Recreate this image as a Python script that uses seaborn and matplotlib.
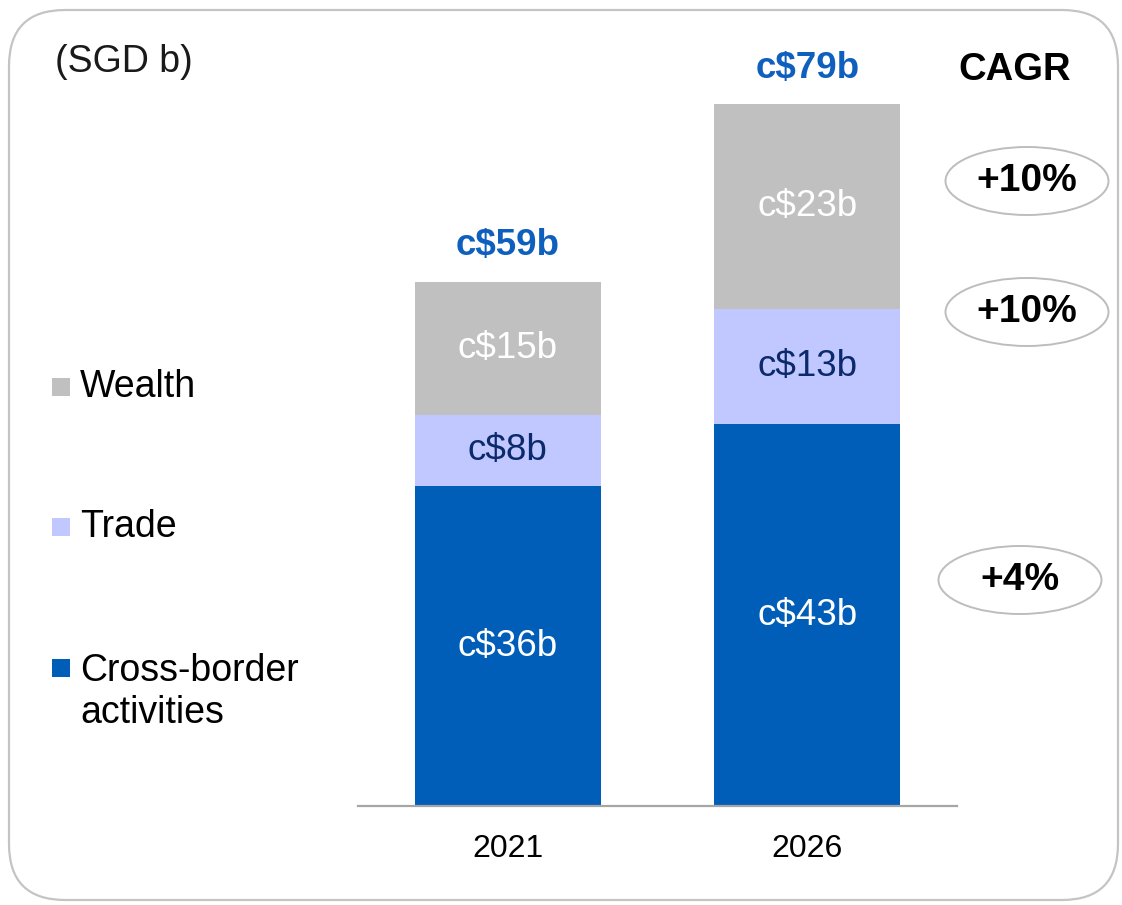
import matplotlib
matplotlib.use("Agg")
import matplotlib.pyplot as plt
from matplotlib.patches import FancyBboxPatch, Ellipse, Rectangle
import numpy as np
import pandas as pd
import seaborn as sns

# ---- data (SGD billions) ----
years = ["2021", "2026"]
cross_border = [36, 43]
trade = [8, 13]
wealth = [15, 23]
segment_names = ["Wealth", "Trade", "Cross-border\nactivities"]
cagr_labels = ["+10%", "+10%", "+4%"]

# ---- styling ----
BLUE = "#005EB8"
LAVENDER = "#C0C8FF"
GREY = "#C0C0C0"
NAVY = "#0C2A6B"
TOTAL_BLUE = "#0F5FBF"
FONT = ["Liberation Sans", "DejaVu Sans"]

sns.set_theme(style="white")
plt.rcParams["font.family"] = FONT

W, H = 1122, 905
fig = plt.figure(figsize=(W / 100, H / 100), dpi=100)


def fx(px):
    return px / W


def fy(py):
    return 1 - py / H


ax = fig.add_axes([fx(358), fy(806), fx(957) - fx(358), fy(60) - fy(806)])

df = pd.DataFrame({
    "year": years,
    "cross": cross_border,
    "trade": trade,
    "wealth": wealth,
})
df["cross_trade"] = df["cross"] + df["trade"]
df["total"] = df["cross_trade"] + df["wealth"]

bar_w = 0.62
# stacked look: draw cumulative heights from the tallest layer down
for col, color in [("total", GREY), ("cross_trade", LAVENDER), ("cross", BLUE)]:
    sns.barplot(data=df, x="year", y=col, color=color, width=bar_w,
                saturation=1, edgecolor="none", linewidth=0, ax=ax)

ax.set_xlim(-0.5, 1.5)
ax.set_ylim(0, 84)
ax.set_xlabel("")
ax.set_ylabel("")
ax.set_yticks([])
ax.tick_params(axis="x", length=0, pad=20, labelsize=23, colors="black")
for s in ["left", "right", "top"]:
    ax.spines[s].set_visible(False)
ax.spines["bottom"].set_color("#A6A6A6")
ax.spines["bottom"].set_linewidth(1.6)

# segment value labels
for i in range(len(years)):
    c, t, w = cross_border[i], trade[i], wealth[i]
    ax.text(i, c / 2, f"c${c}b", ha="center", va="center",
            color="white", fontsize=26.5)
    ax.text(i, c + t / 2, f"c${t}b", ha="center", va="center",
            color=NAVY, fontsize=26.5)
    ax.text(i, c + t + w / 2, f"c${w}b", ha="center", va="center",
            color="white", fontsize=26.5)
    total = c + t + w
    ax.annotate(f"c${total}b", xy=(i, total), xytext=(0, 26),
                textcoords="offset points", ha="center", va="center",
                color=TOTAL_BLUE, fontsize=26.5, fontweight="bold")

# rounded frame around the whole panel
frame = FancyBboxPatch((fx(9), fy(900)), fx(1118) - fx(9), fy(10) - fy(900),
                       boxstyle="round,pad=0,rounding_size=0.05",
                       transform=fig.transFigure, facecolor="none",
                       edgecolor="#C4C4C4", linewidth=1.6,
                       mutation_aspect=W / H)
fig.patches.append(frame)

fig.text(fx(55), fy(62), "(SGD b)", ha="left", va="center",
         fontsize=27, color="#1A1A1A")

# legend on the left
legend_rows = [(387, GREY), (527, LAVENDER), (668, BLUE)]
for (yc, color), name in zip(legend_rows, segment_names):
    sq = 18
    fig.patches.append(Rectangle((fx(52), fy(yc + sq / 2)), fx(sq), sq / H,
                                 transform=fig.transFigure, facecolor=color,
                                 edgecolor="none"))
    if "\n" in name:
        fig.text(fx(80), fy(yc - 15), name, ha="left", va="top",
                 fontsize=27, color="black", linespacing=1.2)
    else:
        fig.text(fx(80), fy(yc), name, ha="left", va="center",
                 fontsize=27, color="black")

# CAGR column
fig.text(fx(1015), fy(70), "CAGR", ha="center", va="center",
         fontsize=27.5, fontweight="bold", color="black")
cagr_pos = [(1027, 181), (1027, 312), (1020, 580)]
for (xc, yc), lab in zip(cagr_pos, cagr_labels):
    fig.patches.append(Ellipse((fx(xc), fy(yc)), fx(163), 68 / H,
                               transform=fig.transFigure, facecolor="none",
                               edgecolor="#BDBDBD", linewidth=1.4))
    fig.text(fx(xc), fy(yc), lab, ha="center", va="center",
             fontsize=28, fontweight="bold", color="black")

fig.savefig("out.png", dpi=100)
